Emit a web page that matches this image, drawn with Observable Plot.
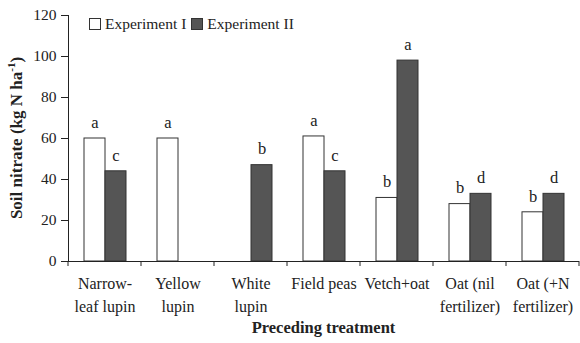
<!DOCTYPE html>
<html><head><meta charset="utf-8">
<script src="https://cdn.jsdelivr.net/npm/d3@7"></script>
<script src="https://cdn.jsdelivr.net/npm/@observablehq/plot@0.6"></script>
<style>
body{margin:0;background:#fff;}
#wrap{position:relative;width:580px;height:343px;overflow:hidden;font-family:"Liberation Serif","Times New Roman",serif;}
.legend{position:absolute;top:15px;left:89px;display:flex;align-items:center;font-size:15.5px;color:#222;line-height:18px;}
.sw{width:10px;height:10px;border:1px solid #333;display:inline-block;margin-right:4px;}
.item{display:flex;align-items:center;margin-right:5px;}
</style></head><body><div id="wrap"></div>
<script>
const categories = ["Narrow-\nleaf lupin", "Yellow\nlupin", "White\nlupin", "Field peas", "Vetch+oat", "Oat (nil\nfertilizer)", "Oat (+N\nfertilizer)"];
const series = ["Experiment I", "Experiment II"];
const exp1 = [60, 60, null, 61, 31, 28, 24];
const exp2 = [44, null, 47, 44, 98, 33, 33];
const letters1 = ["a", "a", null, "a", "b", "b", "b"];
const letters2 = ["c", null, "b", "c", "a", "d", "d"];
const yTicks = [0, 20, 40, 60, 80, 100, 120];
const colors = ["#ffffff", "#555555"];
const xTitle = "Preceding treatment";

const rows = [];
categories.forEach((c, i) => {
  if (exp1[i] != null) rows.push({cat: c, exp: series[0], value: exp1[i], letter: letters1[i]});
  if (exp2[i] != null) rows.push({cat: c, exp: series[1], value: exp2[i], letter: letters2[i]});
});

const plot = Plot.plot({
  width: 580, height: 343,
  marginLeft: 67, marginRight: 0, marginTop: 15, marginBottom: 82,
  style: {fontFamily: "'Liberation Serif', 'Times New Roman', serif", fontSize: "15px", color: "#222", background: "white", overflow: "visible"},
  fx: {domain: categories, padding: 0, label: null},
  x: {domain: series, paddingInner: 0, paddingOuter: 0.71, axis: null},
  y: {domain: [0, 120], label: null},
  color: {domain: series, range: colors},
  marks: [
    Plot.axisY({ticks: yTicks, tickSize: 7, tickPadding: 5, fontSize: 15.5, label: null, tickFormat: d => d}),
    Plot.frame({anchor: "left", facetAnchor: "left", stroke: "#222"}),
    Plot.barY(rows, {fx: "cat", x: "exp", y: "value", fill: "exp", stroke: "#333", strokeWidth: 1}),
    Plot.ruleY([0], {stroke: "#222"}),
    Plot.text(rows, {fx: "cat", x: "exp", y: "value", text: "letter", dy: -16, fontSize: 16.5, fill: "#222"}),
    Plot.axisFx({anchor: "bottom", tickSize: 0, tickPadding: 11, lineHeight: 1.44, fontSize: 16, label: null})
  ]
});

const svg = d3.select(plot);
const fxs = plot.scale("fx");
const ys = plot.scale("y");
const y0 = ys.apply(0);
const edges = categories.map(c => fxs.apply(c)).concat([fxs.apply(categories[categories.length - 1]) + fxs.bandwidth]);
svg.append("g").attr("stroke", "#222")
  .selectAll("line").data(edges).join("line")
  .attr("x1", d => d).attr("x2", d => d).attr("y1", y0).attr("y2", y0 + 5);

// x title
const xr = fxs.range;
svg.append("text")
  .attr("x", (xr[0] + xr[1]) / 2).attr("y", 333)
  .attr("text-anchor", "middle").attr("font-weight", "bold").attr("font-size", 16.5).attr("fill", "#222")
  .text(xTitle);

// y title with superscript
const yr = ys.range;
const yt = svg.append("text")
  .attr("transform", `translate(22,${(yr[0] + yr[1]) / 2}) rotate(-90)`)
  .attr("text-anchor", "middle").attr("font-weight", "bold").attr("font-size", 17).attr("fill", "#222");
yt.append("tspan").text("Soil nitrate (kg N ha");
yt.append("tspan").attr("font-size", 11).attr("dy", -7).text("-1");
yt.append("tspan").attr("dy", 7).text(")");

const wrap = document.getElementById("wrap");
wrap.appendChild(plot);

// legend
const leg = document.createElement("div");
leg.className = "legend";
series.forEach((s, i) => {
  const it = document.createElement("span");
  it.className = "item";
  const sw = document.createElement("span");
  sw.className = "sw";
  sw.style.background = colors[i];
  it.appendChild(sw);
  it.appendChild(document.createTextNode(s));
  leg.appendChild(it);
});
wrap.appendChild(leg);
</script>
</body></html>
